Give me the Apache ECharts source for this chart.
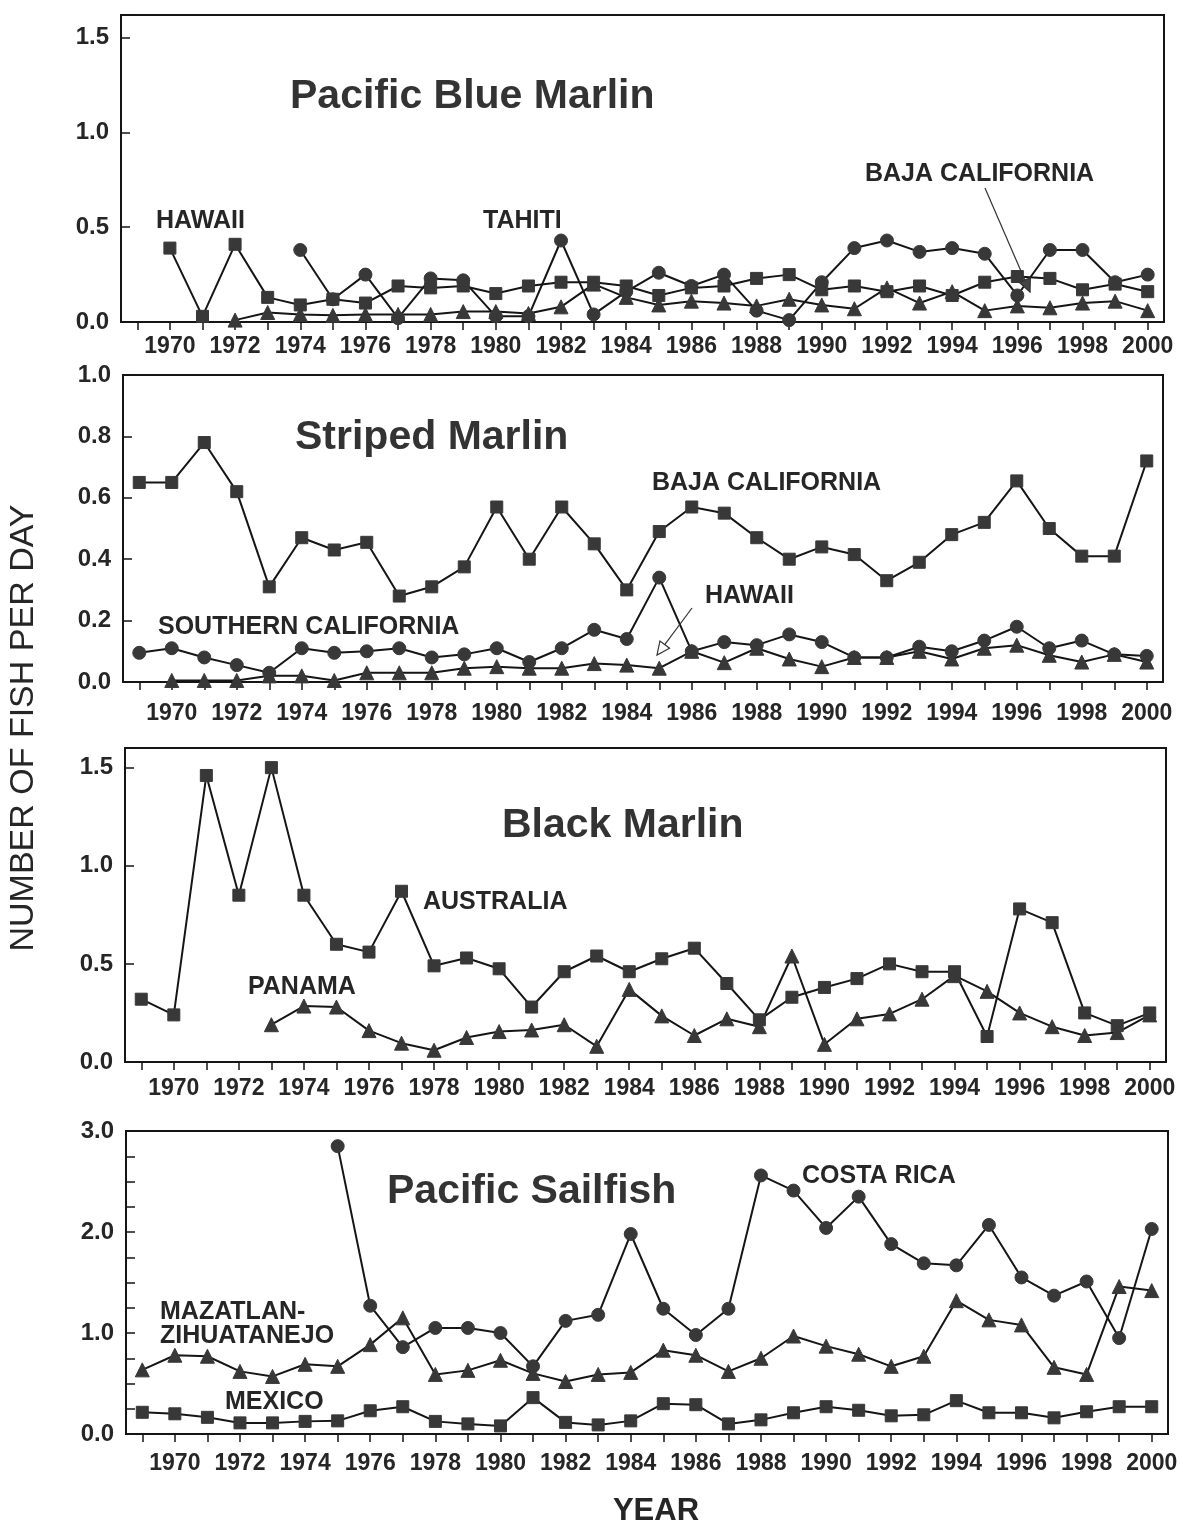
<!DOCTYPE html>
<html>
<head>
<meta charset="utf-8">
<script src="https://cdn.jsdelivr.net/npm/echarts@6/dist/echarts.min.js"></script>
<style>
html,body{margin:0;padding:0;background:#fff;}
#chart{width:1183px;height:1525px;}
</style>
</head>
<body>
<div id="chart"></div>
<script>
// ---------- DATA ----------
const years = ['1969','1970','1971','1972','1973','1974','1975','1976','1977','1978','1979','1980','1981','1982','1983','1984','1985','1986','1987','1988','1989','1990','1991','1992','1993','1994','1995','1996','1997','1998','1999','2000'];

// Pacific Blue Marlin
const blueHawaii = [null,0.39,0.03,0.41,0.13,0.09,0.12,0.10,0.19,0.18,0.19,0.15,0.19,0.21,0.21,0.19,0.14,0.18,0.19,0.23,0.25,0.17,0.19,0.16,0.19,0.14,0.21,0.24,0.23,0.17,0.20,0.16];
const blueTahiti = [null,null,null,null,null,0.38,0.12,0.25,0.02,0.23,0.22,0.03,0.03,0.43,0.04,0.16,0.26,0.19,0.25,0.06,0.01,0.21,0.39,0.43,0.37,0.39,0.36,0.14,0.38,0.38,0.21,0.25];
const blueBaja   = [null,null,null,0.01,0.05,0.04,0.035,0.04,0.04,0.04,0.055,0.055,0.045,0.08,0.20,0.13,0.09,0.11,0.10,0.085,0.12,0.09,0.07,0.18,0.10,0.16,0.06,0.085,0.075,0.10,0.11,0.06];

// Striped Marlin
const stripedBaja   = [0.65,0.65,0.78,0.62,0.31,0.47,0.43,0.455,0.28,0.31,0.375,0.57,0.40,0.57,0.45,0.30,0.49,0.57,0.55,0.47,0.40,0.44,0.415,0.33,0.39,0.48,0.52,0.655,0.50,0.41,0.41,0.72];
const stripedSoCal  = [0.095,0.11,0.08,0.055,0.03,0.11,0.095,0.10,0.11,0.08,0.09,0.11,0.065,0.11,0.17,0.14,0.34,0.10,0.13,0.12,0.155,0.13,0.08,0.08,0.115,0.10,0.135,0.18,0.11,0.135,0.09,0.085];
const stripedHawaii = [null,0.005,0.005,0.005,0.02,0.02,0.005,0.03,0.03,0.03,0.045,0.05,0.045,0.045,0.06,0.055,0.045,0.10,0.063,0.11,0.075,0.05,0.08,0.08,0.10,0.075,0.11,0.12,0.087,0.065,0.09,0.065];

// Black Marlin
const blackAustralia = [0.32,0.24,1.46,0.85,1.50,0.85,0.60,0.56,0.87,0.49,0.53,0.475,0.28,0.46,0.54,0.46,0.526,0.58,0.40,0.215,0.33,0.38,0.425,0.50,0.46,0.46,0.13,0.78,0.71,0.25,0.185,0.25];
const blackPanama    = [null,null,null,null,0.19,0.285,0.28,0.16,0.096,0.06,0.125,0.155,0.163,0.19,0.08,0.37,0.235,0.135,0.22,0.18,0.54,0.09,0.22,0.245,0.32,0.44,0.36,0.25,0.18,0.135,0.15,0.24];

// Pacific Sailfish
const sailCostaRica = [null,null,null,null,null,null,2.85,1.27,0.86,1.05,1.05,1.00,0.67,1.12,1.18,1.98,1.24,0.98,1.24,2.56,2.41,2.04,2.35,1.88,1.69,1.67,2.07,1.55,1.37,1.51,0.95,2.03];
const sailMazatlan  = [0.635,0.78,0.77,0.62,0.57,0.69,0.67,0.885,1.15,0.59,0.63,0.73,0.60,0.52,0.59,0.61,0.83,0.78,0.62,0.75,0.97,0.87,0.79,0.67,0.77,1.32,1.13,1.08,0.66,0.59,1.46,1.42];
const sailMexico    = [0.215,0.20,0.165,0.11,0.11,0.125,0.13,0.23,0.27,0.125,0.10,0.08,0.36,0.115,0.09,0.13,0.30,0.29,0.10,0.14,0.21,0.27,0.235,0.18,0.19,0.33,0.21,0.21,0.16,0.22,0.27,0.27];

// axis settings per panel
const yMax      = [1.62, 1.0, 1.6, 3.0];
const yInterval = [0.5, 0.2, 0.5, 0.25];
const yLabelStep= [0.5, 0.2, 0.5, 1.0];

// ---------- LAYOUT ----------
const grids = [
  {left:121, top:15,   width:1043, height:307},
  {left:123, top:375,  width:1040, height:307},
  {left:125, top:748,  width:1041, height:314},
  {left:126, top:1131, width:1042, height:303}
];
const xLabelMargin = [13, 20, 15, 18];

const FONT = '"Liberation Sans", Arial, sans-serif';
const LINE = '#151515';
const MARK = '#383838';
const TXT = '#1e1e1e';

const chart = echarts.init(document.getElementById('chart'), null, {renderer:'canvas'});

const xAxes = grids.map((g,i)=>({
  type:'category', gridIndex:i, data:years, boundaryGap:true,
  axisLine:{show:true, lineStyle:{color:LINE, width:2}},
  axisTick:{show:true, alignWithLabel:true, interval:0, length:8, inside:false, lineStyle:{color:LINE, width:1.5}},
  axisLabel:{interval:(idx,val)=> (+val)%2===0, margin:xLabelMargin[i], fontSize:23, fontWeight:'bold', color:'#262626', fontFamily:FONT},
  splitLine:{show:false}
}));

const yAxes = grids.map((g,i)=>({
  type:'value', gridIndex:i, min:0, max:yMax[i], interval:yInterval[i],
  axisLine:{show:true, lineStyle:{color:LINE, width:2}},
  axisTick:{show:true, inside:true, length:9, lineStyle:{color:LINE, width:1.5}},
  axisLabel:{margin:12, fontSize:24, fontWeight:'bold', color:'#262626', fontFamily:FONT,
    formatter:(v)=>{ const k=v/yLabelStep[i]; return Math.abs(k-Math.round(k))<1e-6 ? v.toFixed(1) : ''; }},
  splitLine:{show:false}
}));

function mk(data, gi, sym){
  const size = sym==='rect'?12:(sym==='circle'?13:14);
  return {
    type:'line', data:data, xAxisIndex:gi, yAxisIndex:gi,
    symbol:sym, symbolSize:size, showSymbol:true, connectNulls:false,
    lineStyle:{color:LINE, width:2}, itemStyle:{color:MARK, borderColor:MARK},
    animation:false, silent:true
  };
}

const series = [
  mk(blueHawaii,0,'rect'), mk(blueTahiti,0,'circle'), mk(blueBaja,0,'triangle'),
  mk(stripedBaja,1,'rect'), mk(stripedSoCal,1,'circle'), mk(stripedHawaii,1,'triangle'),
  mk(blackAustralia,2,'rect'), mk(blackPanama,2,'triangle'),
  mk(sailMexico,3,'rect'), mk(sailMazatlan,3,'triangle'), mk(sailCostaRica,3,'circle')
];

function txt(t, x, y, size, weight, color, align){
  return {type:'text', x:x, y:y, z:100, style:{text:t, font:(weight||'bold')+' '+size+'px '+FONT, fill:color||'#262626', align:align||'left', verticalAlign:'middle'}};
}
function arrow(x1,y1,x2,y2,hollow){
  const ang = Math.atan2(y2-y1, x2-x1), L=13, W=6;
  const bx = x2 - L*Math.cos(ang), by = y2 - L*Math.sin(ang);
  const px = -Math.sin(ang)*W, py = Math.cos(ang)*W;
  return [
    {type:'line', z:100, shape:{x1:x1,y1:y1,x2:hollow?bx:x2,y2:hollow?by:y2}, style:{stroke:'#333', lineWidth:1.2}},
    {type:'polygon', z:101, shape:{points:[[x2,y2],[bx+px,by+py],[bx-px,by-py]]},
     style:{fill:hollow?'#fff':'#444', stroke:'#333', lineWidth:1.2}}
  ];
}

const graphics = [
  txt('Pacific Blue Marlin', 290, 97, 41, 'bold', '#333'),
  txt('Striped Marlin', 295, 438, 41, 'bold', '#333'),
  txt('Black Marlin', 502, 826, 41, 'bold', '#333'),
  txt('Pacific Sailfish', 387, 1192, 41, 'bold', '#333'),

  txt('HAWAII', 156, 221, 25), txt('TAHITI', 483, 221, 25), txt('BAJA CALIFORNIA', 865, 174, 25),
  txt('BAJA CALIFORNIA', 652, 483, 25), txt('HAWAII', 705, 596, 25), txt('SOUTHERN CALIFORNIA', 158, 627, 25),
  txt('AUSTRALIA', 423, 902, 25), txt('PANAMA', 248, 987, 25),
  txt('COSTA RICA', 802, 1176, 25), txt('MAZATLAN-', 160, 1312, 25), txt('ZIHUATANEJO', 160, 1336, 25), txt('MEXICO', 225, 1402, 25),

  {type:'text', x:24, y:728, rotation:Math.PI/2, z:100,
   style:{text:'NUMBER OF FISH PER DAY', font:'normal 34px '+FONT, fill:'#262626', align:'center', verticalAlign:'middle'}},
  txt('YEAR', 656, 1511, 31, 'bold', '#262626', 'center')
].concat(arrow(985,188,1030,292,false)).concat(arrow(692,608,657,655,true));

chart.setOption({
  backgroundColor:'#fff',
  animation:false,
  grid: grids.map(g=>Object.assign({show:true, borderColor:LINE, borderWidth:2, backgroundColor:'transparent'}, g)),
  xAxis: xAxes,
  yAxis: yAxes,
  series: series,
  graphic: graphics
});
</script>
</body>
</html>
